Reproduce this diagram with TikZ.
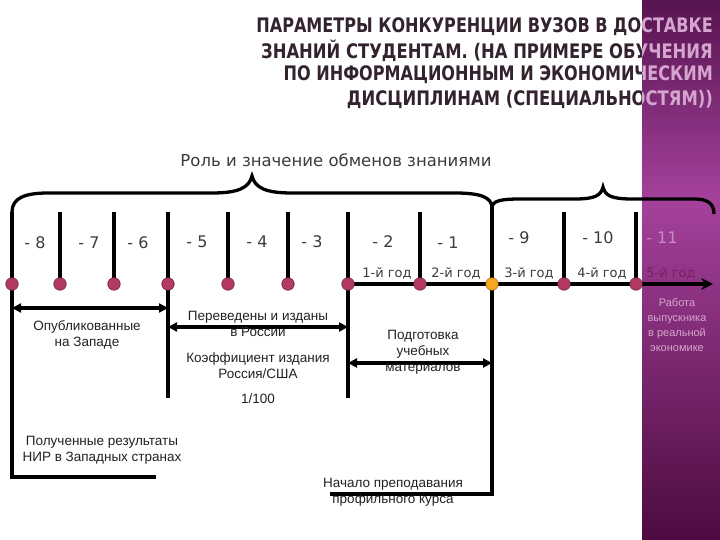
\documentclass[tikz,border=0pt]{standalone}
\usepackage{fontspec}
\setmainfont{DejaVu Sans}
\newfontfamily\arialf{Liberation Sans}
\newfontfamily\titlef[FakeStretch=0.82]{DejaVu Sans}
\usetikzlibrary{arrows.meta}
\definecolor{bandtop}{HTML}{561450}
\definecolor{bandmid}{HTML}{A5419B}
\definecolor{bandbot}{HTML}{4C0B40}
\definecolor{dotc}{HTML}{B23A64}
\definecolor{dotline}{HTML}{6E1F3A}
\definecolor{orangec}{HTML}{F5A623}
\definecolor{orangeline}{HTML}{A86A10}
\definecolor{labc}{HTML}{3C3C3C}
\definecolor{lowc}{HTML}{222222}
\definecolor{titlec}{HTML}{33232F}
\definecolor{bandtext}{HTML}{D4A6CE}
\definecolor{elevenc}{HTML}{C98AC2}
\definecolor{fivec}{HTML}{7A1F66}
\tikzset{
  bar/.style={line width=3.3pt},
  dbl/.style={line width=3.6pt, {Triangle[length=9pt,width=9pt]}-{Triangle[length=9pt,width=9pt]}},
  dot/.style={circle, fill=dotc, draw=dotline, line width=0.6pt, minimum size=12.5pt, inner sep=0pt},
  odot/.style={dot, fill=orangec, draw=orangeline},
  numlab/.style={font=\fontsize{16}{19}\selectfont, text=labc, inner sep=0pt},
  yearlab/.style={font=\fontsize{13}{15}\selectfont, text=labc, inner sep=0pt},
  lowlab/.style={font=\arialf\fontsize{13.5}{16}\selectfont, text=lowc, align=center, inner sep=0pt},
  titlestyle/.style={font=\titlef\bfseries\fontsize{20}{24}\selectfont, anchor=east, inner sep=0pt},
}
\newcommand\drawtitlelines[2]{%
  \node[titlestyle, text=#2] (ttl1#1) at (713,27) {\scalebox{0.98}[1]{ПАРАМЕТРЫ КОНКУРЕНЦИИ ВУЗОВ В ДОСТАВКЕ}};
  \node[titlestyle, text=#2] (ttl2#1) at (713,51) {ЗНАНИЙ СТУДЕНТАМ. (НА ПРИМЕРЕ ОБУЧЕНИЯ};
  \node[titlestyle, text=#2] (ttl3#1) at (713,75) {\scalebox{0.98}[1]{ПО ИНФОРМАЦИОННЫМ И ЭКОНОМИЧЕСКИМ}};
  \node[titlestyle, text=#2] (ttl4#1) at (713,99) {ДИСЦИПЛИНАМ (СПЕЦИАЛЬНОСТЯМ))};
}
\begin{document}
\begin{tikzpicture}[x=1pt,y=-1pt]
\useasboundingbox (0,0) rectangle (720,540);
\fill[white] (0,0) rectangle (720,540);
% band
\shade[top color=bandtop, bottom color=bandmid] (642,0) rectangle (720,200);
\shade[top color=bandmid, bottom color=bandbot] (642,200) rectangle (720,540);
% title
\begin{scope}
  \clip (0,0) rectangle (642,540);
  \drawtitlelines{a}{titlec}
\end{scope}
\begin{scope}
  \clip (642,0) rectangle (720,540);
  \drawtitlelines{b}{bandtext}
\end{scope}
\node[numlab, font=\fontsize{16.5}{19}\selectfont] (sub) at (336,160) {Роль и значение обменов знаниями};
% coordinates
\coordinate (b1s) at (12,212);
\coordinate (b12) at (492,208);
\coordinate (b2e) at (714,214);
\foreach \i/\x in {2/60,3/114,4/168,5/228,6/288,7/348,8/420,10/564,11/636}
  \coordinate (tt\i) at (\x,212);
\coordinate (e1) at (12,477);
\coordinate (f1) at (156,477);
\coordinate (e4) at (168,398);
\coordinate (e7) at (348,398);
\coordinate (e9) at (492,494);
\coordinate (f9) at (330,494);
\coordinate (aend) at (713,284);
% braces
\draw[bar] (b1s) .. controls (12,198) and (25,193) .. (48,193) -- (212,193)
  .. controls (238,193) and (249,188) .. (252,176)
  .. controls (255,188) and (266,193) .. (292,193) -- (455,193)
  .. controls (480,193) and (492,197) .. (b12);
\draw[bar] (b12) .. controls (492,201) and (500,199) .. (520,199) -- (575,199)
  .. controls (596,199) and (601,195) .. (603,187)
  .. controls (605,195) and (610,199) .. (632,199) -- (695,199)
  .. controls (708,199) and (714,204) .. (b2e);
% dots positions
\foreach \i/\x in {1/12,2/60,3/114,4/168,5/228,6/288,7/348,8/420,9/492,10/564,11/636}
  \coordinate (p\i) at (\x,284);
% ticks
\draw[bar] (b1s) -- (e1) -- (f1);
\foreach \i in {2,3,5,6,8,10,11} \draw[bar] (tt\i) -- (p\i);
\draw[bar] (tt4) -- (e4);
\draw[bar] (tt7) -- (e7);
\draw[bar] (b12) -- (e9) -- (f9);
\draw[bar, -{Stealth[length=12pt,width=12pt]}] (p7) -- (aend);
% double arrows
\draw[dbl] (12,308) -- (168,308);
\draw[dbl] (168,327) -- (348,327);
\draw[dbl] (348,363) -- (492,363);
% dots
\foreach \i in {1,2,3,4,5,6,7,8,10,11} \node[dot] (d\i) at (p\i) {};
\node[odot] (d9) at (p9) {};
% top labels
\node[numlab] (l8) at (35,243) {- 8};
\node[numlab] (l7) at (89,243) {- 7};
\node[numlab] (l6) at (138,243) {- 6};
\node[numlab] (l5) at (197,242) {- 5};
\node[numlab] (l4) at (257,242) {- 4};
\node[numlab] (l3) at (312,242) {- 3};
\node[numlab] (l2) at (383,242) {- 2};
\node[numlab] (l1) at (448,243) {- 1};
\node[numlab] (l9) at (519,238) {- 9};
\node[numlab] (l10) at (598,238) {- 10};
\node[numlab, text=elevenc] (l11) at (662,238) {- 11};
\node[yearlab] (y1) at (387,273) {1-й год};
\node[yearlab] (y2) at (456,273) {2-й год};
\node[yearlab] (y3) at (529,273) {3-й год};
\node[yearlab] (y4) at (602,273) {4-й год};
\node[yearlab, text=fivec] (y5) at (671,273) {5-й год};
% lower labels
\node[lowlab] (pub) at (87,335) {Опубликованные\\на Западе};
\node[lowlab] (trans) at (258,324) {Переведены и изданы\\в России};
\node[lowlab] (coef) at (258,366) {Коэффициент издания\\Россия/США};
\node[lowlab] (ratio) at (258,399) {1/100};
\node[lowlab] (res) at (102,450) {Полученные результаты\\НИР в Западных странах};
\node[lowlab] (prep) at (423,352) {Подготовка\\учебных\\материалов};
\node[lowlab] (start) at (393,492) {Начало преподавания\\профильного курса};
\node[lowlab, text=bandtext, font=\arialf\fontsize{11}{15}\selectfont] (work) at (677,325) {Работа\\выпускника\\в реальной\\экономике};
\end{tikzpicture}
\end{document}
